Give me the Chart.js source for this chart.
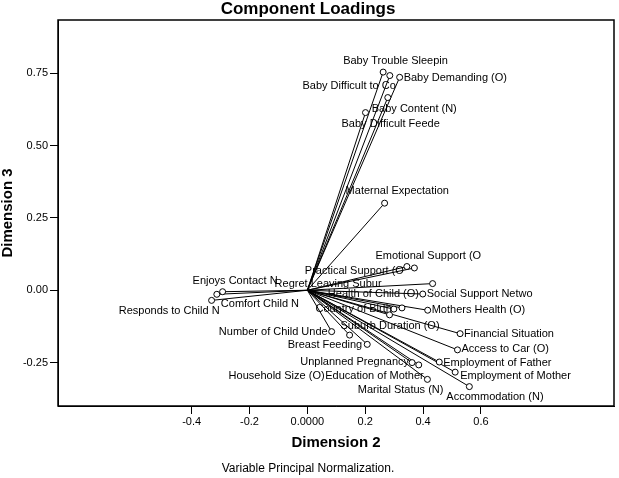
<!DOCTYPE html>
<html lang="en">
<head>
<meta charset="UTF-8">
<title>Component Loadings</title>
<script src="https://cdn.jsdelivr.net/npm/chart.js"></script>
<style>
  html, body { margin: 0; padding: 0; background: #fff; }
  #wrap { width: 619px; height: 478px; }
</style>
</head>
<body>
<div id="wrap"><canvas id="loadingsChart" width="619" height="478"></canvas></div>
<script>
// variable names (SPSS cuts them at 20 characters)
const variables = [
  "Baby Trouble Sleepin", "Baby Demanding (O)", "Baby Difficult to Co", "Baby Content (N)",
  "Baby Difficult Feede", "Maternal Expectation", "Practical Support (O", "Emotional Support (O",
  "Regret Leaving Subur", "Social Support Netwo", "Health of Child (O)", "Enjoys Contact N",
  "Comfort Child N", "Responds to Child N", "Country of Birth", "Mothers Health (O)",
  "Number of Child Unde", "Suburb Duration (O)", "Financial Situation", "Breast Feeding",
  "Access to Car (O)", "Unplanned Pregnancy", "Employment of Father", "Household Size (O)",
  "Education of Mother", "Employment of Mother", "Marital Status (N)", "Accommodation (N)"
];
const dim2 = [
  0.262, 0.319, 0.285, 0.278,
  0.201, 0.267, 0.344, 0.370,
  0.433, 0.399, 0.327, -0.293,
  -0.313, -0.331, 0.299, 0.416,
  0.084, 0.284, 0.528, 0.207,
  0.519, 0.362, 0.456, 0.146,
  0.385, 0.511, 0.415, 0.560
];
const dim3 = [
  0.754, 0.736, 0.742, 0.666,
  0.614, 0.301, 0.082, 0.077,
  0.023, -0.013, -0.061, -0.005,
  -0.014, -0.035, -0.065, -0.069,
  -0.143, -0.085, -0.150, -0.187,
  -0.206, -0.250, -0.248, -0.155,
  -0.258, -0.283, -0.308, -0.333
];
const xTicks = [-0.4, -0.2, 0, 0.2, 0.4, 0.6];
const yTicks = [-0.25, 0, 0.25, 0.5, 0.75];

// where each label sits next to its point: [dx, dy, align] in pixels
const labelPlace = [
  [-40, -11, "left"], [4, 1, "left"], [6, 10, "right"], [-16, 11, "left"],
  [-24, 11, "left"], [-39, -12, "left"], [-3, 4, "right"], [-39, -12, "left"],
  [-51, 0, "right"], [4, 0, "left"], [17, -14, "right"], [-30, -11, "left"],
  [4, 10, "left"], [8, 11, "right"], [-2, 0, "right"], [4, 0, "left"],
  [-4, 0, "right"], [-49, 11, "left"], [4, 0, "left"], [-5, 1, "right"],
  [4, -1, "left"], [-3, -1, "right"], [4, 1, "left"], [-25, 41, "right"],
  [5, 11, "right"], [5, 4, "left"], [16, 11, "right"], [-23, 10, "left"]
];

Chart.defaults.font.family = "'Liberation Sans', Arial, sans-serif";
Chart.defaults.color = "#000";

let datasets = [];
// one line from the origin to every loading
dim2.forEach(function(x, i) {
  datasets.push({
    data: [{x: 0, y: 0}, {x: x, y: dim3[i]}],
    showLine: true,
    borderColor: "#000",
    borderWidth: 1,
    pointRadius: 0,
    order: 1
  });
});
datasets.push({
  data: dim2.map((x, i) => ({x: x, y: dim3[i]})),
  pointRadius: 3,
  pointBorderWidth: 1,
  pointBorderColor: "#000",
  pointBackgroundColor: "#fff",
  order: 0
});

const labelPlugin = {
  id: "pointLabels",
  afterDatasetsDraw(chart) {
    const ctx = chart.ctx;
    const xs = chart.scales.x, ys = chart.scales.y;
    ctx.save();
    ctx.font = "11px 'Liberation Sans', Arial, sans-serif";
    ctx.fillStyle = "#000";
    ctx.textBaseline = "middle";
    variables.forEach(function(name, i) {
      const p = labelPlace[i];
      ctx.textAlign = p[2];
      ctx.fillText(name, xs.getPixelForValue(dim2[i]) + p[0], ys.getPixelForValue(dim3[i]) + p[1]);
    });
    ctx.restore();
  }
};

const framePlugin = {
  id: "frame",
  afterDraw(chart) {
    const a = chart.chartArea;
    const ctx = chart.ctx;
    ctx.save();
    ctx.strokeStyle = "#000";
    ctx.lineWidth = 1.5;
    ctx.strokeRect(a.left, a.top, a.right - a.left, a.bottom - a.top);
    ctx.restore();
  }
};

new Chart(document.getElementById("loadingsChart"), {
  type: "scatter",
  data: { datasets: datasets },
  options: {
    responsive: false,
    animation: false,
    events: [],
    layout: { padding: { left: 0, right: 3, top: 0, bottom: 0 } },
    plugins: {
      legend: { display: false },
      tooltip: { enabled: false },
      title: {
        display: true,
        text: "Component Loadings",
        color: "#000",
        font: { size: 17, weight: "bold", lineHeight: 1 },
        padding: { top: 0.5, bottom: 2.5 }
      },
      subtitle: {
        display: true,
        position: "bottom",
        text: "Variable Principal Normalization.",
        color: "#000",
        font: { size: 12, lineHeight: 1.2 },
        padding: { top: 0, bottom: 1.8 }
      }
    },
    scales: {
      x: {
        type: "linear",
        min: -0.862,
        max: 1.06,
        afterBuildTicks: s => { s.ticks = xTicks.map(v => ({value: v})); },
        afterFit: s => { s.height = 55.8; },
        ticks: {
          autoSkip: false,
          maxRotation: 0,
          padding: 1,
          font: { size: 11 },
          callback: v => (v === 0 ? "0.0000" : v.toFixed(1))
        },
        grid: { drawOnChartArea: false, tickLength: 8, color: "#000" },
        border: { color: "#000", width: 1 },
        title: {
          display: true,
          text: "Dimension 2",
          font: { size: 15, weight: "bold", lineHeight: 1.2 },
          padding: { top: 0, bottom: 9.8 }
        }
      },
      y: {
        type: "linear",
        min: -0.400,
        max: 0.934,
        afterBuildTicks: s => { s.ticks = yTicks.map(v => ({value: v})); },
        afterFit: s => { s.width = 58; },
        ticks: {
          autoSkip: false,
          padding: 2,
          font: { size: 11 },
          callback: v => v.toFixed(2)
        },
        grid: { drawOnChartArea: false, tickLength: 8, color: "#000" },
        border: { color: "#000", width: 1 },
        title: {
          display: true,
          text: "Dimension 3",
          font: { size: 15, weight: "bold", lineHeight: 1 },
          padding: { top: 0, bottom: 0 }
        }
      }
    }
  },
  plugins: [labelPlugin, framePlugin]
});
</script>
</body>
</html>
